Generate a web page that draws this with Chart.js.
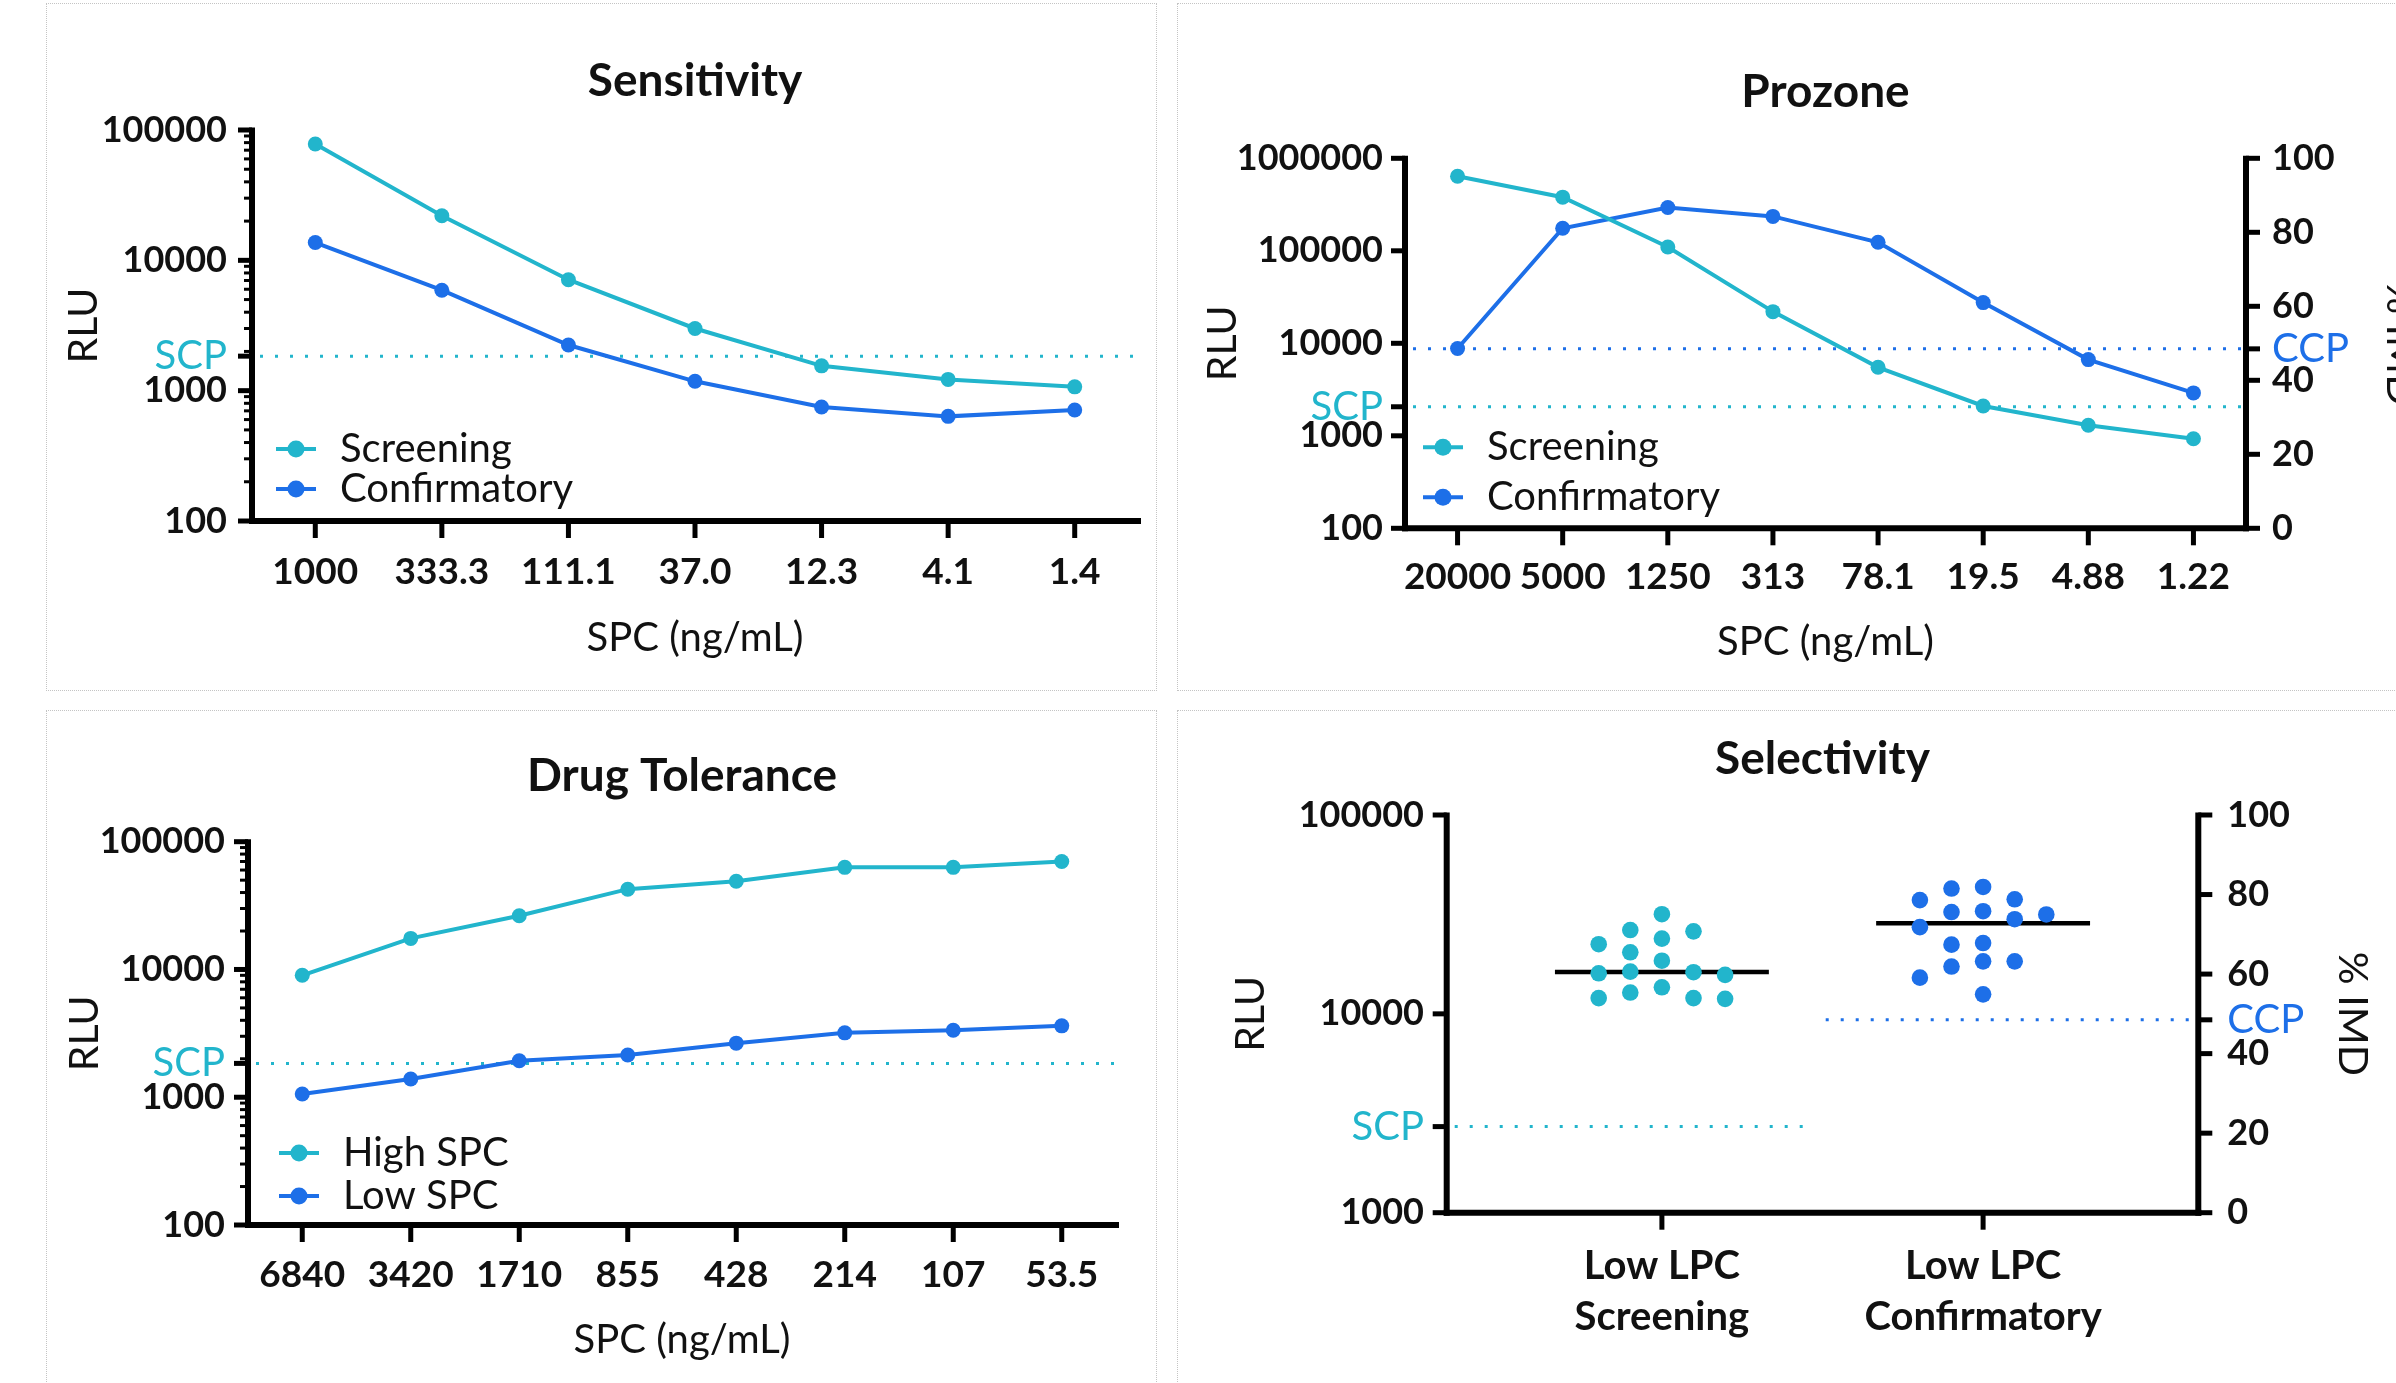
<!DOCTYPE html>
<html>
<head>
<meta charset="utf-8">
<title>Assay validation charts</title>
<script src="https://cdn.jsdelivr.net/npm/chart.js@4.4.1/dist/chart.umd.min.js"></script>
<style>
  html, body { margin: 0; padding: 0; background: #fff; overflow: hidden; }
  body { width: 2396px; height: 1383px; position: relative; }
  .box { position: absolute; border: 1px dotted #c4c4c4; box-sizing: border-box; }
  canvas { position: absolute; }
</style>
</head>
<body>
<div class="box" style="left:46px; top:3px; width:1111px; height:688px"></div>
<div class="box" style="left:1177px; top:3px; width:1300px; height:688px"></div>
<div class="box" style="left:46px; top:710px; width:1111px; height:700px"></div>
<div class="box" style="left:1177px; top:710px; width:1300px; height:700px"></div>
<canvas id="sens" width="1111" height="688" style="left:46px; top:3px"></canvas>
<canvas id="proz" width="1300" height="688" style="left:1178px; top:3px"></canvas>
<canvas id="drug" width="1111" height="700" style="left:46px; top:710px"></canvas>
<canvas id="sel" width="1300" height="700" style="left:1178px; top:710px"></canvas>
<script>
// Sensitivity
var sensDoses = ['1000', '333.3', '111.1', '37.0', '12.3', '4.1', '1.4'];
var sensScreening = [78000, 22000, 7100, 3000, 1550, 1220, 1070];
var sensConfirmatory = [13700, 5900, 2240, 1180, 750, 635, 710];
var sensRluTicks = [100, 1000, 10000, 100000];
var sensScp = 1840;

// Prozone (confirmatory is % IMD on the right axis)
var prozDoses = ['20000', '5000', '1250', '313', '78.1', '19.5', '4.88', '1.22'];
var prozScreening = [640000, 380000, 110000, 22000, 5500, 2100, 1300, 930];
var prozConfirmatory = [48.6, 81.1, 86.7, 84.3, 77.3, 61.0, 45.6, 36.6];
var prozRluTicks = [100, 1000, 10000, 100000, 1000000];
var prozScp = 2060;
var prozCcp = 48.5;

// Drug tolerance
var drugDoses = ['6840', '3420', '1710', '855', '428', '214', '107', '53.5'];
var drugHigh = [9000, 17500, 26300, 42500, 49000, 63000, 63000, 70000];
var drugLow = [1060, 1390, 1930, 2140, 2650, 3190, 3340, 3620];
var drugRluTicks = [100, 1000, 10000, 100000];
var drugScp = 1840;

// Selectivity (screening in RLU, confirmatory in % IMD)
var selGroups = [['Low LPC', 'Screening'], ['Low LPC', 'Confirmatory']];
var selScreening = [31700, 26400, 26000, 23900, 22400, 20400, 18500, 16300, 16200, 16000, 15700, 13600, 12800, 12000, 12000, 11900];
var selConfirmatory = [81.9, 81.5, 78.8, 78.6, 75.8, 75.6, 75.0, 73.8, 71.8, 67.8, 67.4, 63.2, 63.2, 61.9, 59.1, 54.9];
var selRluTicks = [1000, 10000, 100000];
var imdTicks = [0, 20, 40, 60, 80, 100];
var selScp = 2710;
var selCcp = 48.5;

var CYAN = '#22B5CC';
var BLUE = '#1D6FE8';
var INK = '#111';

Chart.defaults.font.family = 'Lato, "Open Sans", sans-serif';
Chart.defaults.color = INK;

function fixed(px) {
    return function (scale) {
        if (scale.isHorizontal()) scale.height = px; else scale.width = px;
    };
}

function median(values) {
    var s = values.slice().sort(function (a, b) { return a - b; });
    var m = Math.floor(s.length / 2);
    return s.length % 2 ? s[m] : (s[m - 1] + s[m]) / 2;
}

// value axis with an extra labelled tick for the cut point
function valueAxis(o) {
    var list = o.ticks.concat([o.cut]).sort(function (a, b) { return a - b; });
    return {
        type: o.type, position: o.position, min: o.min, max: o.max,
        afterBuildTicks: function (s) { s.ticks = list.map(function (v) { return { value: v }; }); },
        afterFit: fixed(o.width),
        grid: { display: false, drawTicks: false },
        border: { display: false },
        ticks: {
            autoSkip: false, padding: o.pad,
            callback: function (v) { return v === o.cut ? o.cutLabel : String(v); },
            color: function (c) { return c.tick && c.tick.value === o.cut ? o.cutColor : INK; },
            font: function (c) {
                return c.tick && c.tick.value === o.cut ? { size: 40, weight: 'normal' } : { size: 36, weight: 'bold' };
            }
        },
        title: { display: true, text: o.title, color: INK, font: { size: 41 }, padding: { top: o.titlePad } }
    };
}

function doseAxis(labels, height, pad, titlePad) {
    return {
        type: 'category', labels: labels, offset: true,
        afterFit: fixed(height),
        grid: { display: false, drawTicks: false },
        border: { display: false },
        ticks: { autoSkip: false, maxRotation: 0, padding: pad, color: INK, font: { size: 37, weight: 'bold' } },
        title: { display: true, text: 'SPC (ng/mL)', color: INK, font: { size: 40 }, padding: { bottom: titlePad } }
    };
}

function series(label, data, color, axis) {
    return {
        label: label, data: data, yAxisID: axis || 'y',
        borderColor: color, backgroundColor: color, borderWidth: 4, tension: 0,
        pointRadius: 7.5, pointBorderWidth: 0, pointBackgroundColor: color
    };
}

function chartTitle(text, top, bottom) {
    return { display: true, text: text, fullSize: false, color: INK,
        font: { size: 46, weight: 'bold' }, padding: { top: top, bottom: bottom } };
}

function line(ctx, x0, y0, x1, y1) {
    ctx.beginPath(); ctx.moveTo(x0, y0); ctx.lineTo(x1, y1); ctx.stroke();
}

// Prism style axes, cut-point lines and in-plot legend
var prism = {
    id: 'prism',
    beforeDatasetsDraw: function (chart, args, opts) {
        var ctx = chart.ctx, area = chart.chartArea;
        (opts.refs || []).forEach(function (r) {
            var y = chart.scales[r.scale].getPixelForValue(r.value);
            var x0 = r.from != null ? chart.scales.x.getPixelForValue(r.from) : area.left + 8;
            var x1 = r.to != null ? chart.scales.x.getPixelForValue(r.to) : area.right;
            ctx.save();
            ctx.strokeStyle = r.color; ctx.lineWidth = 3; ctx.setLineDash([3, 12]);
            line(ctx, x0, y, x1, y);
            ctx.restore();
        });
    },
    afterDatasetsDraw: function (chart, args, opts) {
        var ctx = chart.ctx, area = chart.chartArea;
        ctx.save();
        ctx.strokeStyle = '#000';
        Object.keys(chart.scales).forEach(function (id) {
            var s = chart.scales[id];
            if (s.isHorizontal()) {
                var yb = area.bottom;
                ctx.lineWidth = 6; line(ctx, area.left - 3, yb, area.right + 3, yb);
                ctx.lineWidth = 5;
                s.ticks.forEach(function (t, i) {
                    var x = s.getPixelForTick(i);
                    line(ctx, x, yb, x, yb + 17);
                });
            } else {
                var left = s.position === 'left';
                var x0 = left ? area.left : area.right;
                var dir = left ? -1 : 1;
                ctx.lineWidth = 6; line(ctx, x0, area.top - 2.5, x0, area.bottom + 3);
                ctx.lineWidth = 5;
                s.ticks.forEach(function (t) {
                    var y = s.getPixelForValue(t.value);
                    line(ctx, x0, y, x0 + dir * 14, y);
                });
                if (opts.minor && s.type === 'logarithmic') {
                    ctx.lineWidth = 3;
                    var lo = Math.round(Math.log10(s.min)), hi = Math.round(Math.log10(s.max));
                    for (var d = lo; d < hi; d++) {
                        for (var k = 2; k <= 9; k++) {
                            var ym = s.getPixelForValue(k * Math.pow(10, d));
                            line(ctx, x0, ym, x0 + dir * 8, ym);
                        }
                    }
                }
            }
        });
        if (opts.legend) {
            var rows = opts.legend.rows;
            for (var i = 0; i < rows.length; i++) {
                var ds = chart.data.datasets[i];
                var x = area.left + opts.legend.dx, y = area.bottom - rows[i];
                ctx.strokeStyle = ds.borderColor; ctx.lineWidth = 4;
                line(ctx, x - 20, y, x + 20, y);
                ctx.fillStyle = ds.borderColor;
                ctx.beginPath(); ctx.arc(x, y, 8.5, 0, Math.PI * 2); ctx.fill();
                ctx.fillStyle = INK;
                ctx.font = 'normal 40px Lato, "Open Sans", sans-serif';
                ctx.textBaseline = 'middle'; ctx.textAlign = 'left';
                ctx.fillText(ds.label, x + 44, y);
            }
        }
        ctx.restore();
    }
};

function baseOptions(padRight, title, prismOpts, scales) {
    return {
        responsive: false, animation: false, devicePixelRatio: 1,
        layout: { padding: { left: 0, top: 0, bottom: 0, right: padRight } },
        plugins: { legend: { display: false }, tooltip: { enabled: false }, title: title, prism: prismOpts },
        scales: scales
    };
}

// Sensitivity
new Chart(document.getElementById('sens'), {
    type: 'line',
    data: { labels: sensDoses, datasets: [
        series('Screening', sensScreening, CYAN),
        series('Confirmatory', sensConfirmatory, BLUE)
    ] },
    options: baseOptions(19, chartTitle('Sensitivity', 50.4, 21.4),
        { minor: true, refs: [{ scale: 'y', value: sensScp, color: CYAN }], legend: { dx: 44, rows: [72, 32] } },
        {
            x: doseAxis(sensDoses, 170, 28.7, 29),
            y: valueAxis({ type: 'logarithmic', position: 'left', min: 100, max: 100000, ticks: sensRluTicks,
                cut: sensScp, cutLabel: 'SCP', cutColor: CYAN, width: 206, pad: 25, title: 'RLU', titlePad: 13 })
        }),
    plugins: [prism]
});

// Prozone
new Chart(document.getElementById('proz'), {
    type: 'line',
    data: { labels: prozDoses, datasets: [
        series('Screening', prozScreening, CYAN),
        series('Confirmatory', prozConfirmatory, BLUE, 'y2')
    ] },
    options: baseOptions(0, chartTitle('Prozone', 61.4, 38.7),
        { minor: false, refs: [
            { scale: 'y', value: prozScp, color: CYAN },
            { scale: 'y2', value: prozCcp, color: BLUE }
        ], legend: { dx: 38, rows: [81, 31] } },
        {
            x: doseAxis(prozDoses, 162.7, 26.9, 25),
            y: valueAxis({ type: 'logarithmic', position: 'left', min: 100, max: 1000000, ticks: prozRluTicks,
                cut: prozScp, cutLabel: 'SCP', cutColor: CYAN, width: 227, pad: 22, title: 'RLU', titlePad: 20.5 }),
            y2: valueAxis({ type: 'linear', position: 'right', min: 0, max: 100, ticks: imdTicks,
                cut: prozCcp, cutLabel: 'CCP', cutColor: BLUE, width: 232, pad: 26, title: '% IMD', titlePad: 53 })
        }),
    plugins: [prism]
});

// Drug tolerance
new Chart(document.getElementById('drug'), {
    type: 'line',
    data: { labels: drugDoses, datasets: [
        series('High SPC', drugHigh, CYAN),
        series('Low SPC', drugLow, BLUE)
    ] },
    options: baseOptions(41, chartTitle('Drug Tolerance', 38.4, 38.1),
        { minor: true, refs: [{ scale: 'y', value: drugScp, color: CYAN }], legend: { dx: 51, rows: [72, 29] } },
        {
            x: doseAxis(drugDoses, 185, 28.2, 45.5),
            y: valueAxis({ type: 'logarithmic', position: 'left', min: 100, max: 100000, ticks: drugRluTicks,
                cut: drugScp, cutLabel: 'SCP', cutColor: CYAN, width: 202, pad: 23, title: 'RLU', titlePad: 14 })
        }),
    plugins: [prism]
});

// Selectivity
var MED_HALF = 0.333;
function dots(label, values, center, color, axis) {
    return {
        label: label, yAxisID: axis, order: 0,
        data: values.map(function (v) { return { x: center, y: v }; }),
        backgroundColor: color, pointRadius: 8.3, pointBorderWidth: 0
    };
}
function medianBar(values, center, axis) {
    var m = median(values);
    return {
        type: 'line', label: 'median', yAxisID: axis, order: 1,
        data: [{ x: center - MED_HALF, y: m }, { x: center + MED_HALF, y: m }],
        borderColor: '#000', borderWidth: 4.5, pointRadius: 0
    };
}

var sel = new Chart(document.getElementById('sel'), {
    type: 'scatter',
    data: { datasets: [
        dots('Screening', selScreening, 1, CYAN, 'y'),
        dots('Confirmatory', selConfirmatory, 2, BLUE, 'y2'),
        medianBar(selScreening, 1, 'y'),
        medianBar(selConfirmatory, 2, 'y2')
    ] },
    options: baseOptions(0, chartTitle('Selectivity', 21.4, 28.4),
        { minor: false, refs: [
            { scale: 'y', value: selScp, color: CYAN, to: 1.44 },
            { scale: 'y2', value: selCcp, color: BLUE, from: 1.51 }
        ] },
        {
            x: {
                type: 'linear', min: 0.33, max: 2.67,
                afterBuildTicks: function (s) { s.ticks = [{ value: 1 }, { value: 2 }]; },
                afterFit: fixed(197.3),
                grid: { display: false, drawTicks: false },
                border: { display: false },
                ticks: { autoSkip: false, maxRotation: 0, padding: 27.8, color: INK,
                    callback: function (v) { return selGroups[v - 1]; },
                    font: { size: 40, weight: 'bold', lineHeight: 1.275 } }
            },
            y: valueAxis({ type: 'logarithmic', position: 'left', min: 1000, max: 100000, ticks: selRluTicks,
                cut: selScp, cutLabel: 'SCP', cutColor: CYAN, width: 268.7, pad: 22.7, title: 'RLU', titlePad: 48 }),
            y2: valueAxis({ type: 'linear', position: 'right', min: 0, max: 100, ticks: imdTicks,
                cut: selCcp, cutLabel: 'CCP', cutColor: BLUE, width: 279.7, pad: 29, title: '% IMD', titlePad: 101 })
        }),
    plugins: [prism]
});

// spread the dots sideways like a Prism scatter dot plot, using the chart's own scales
var COL_PX = 31.6;
var MIN_GAP = 18;
function swarm(chart, dsIndex, center, values, scaleId) {
    var ys = chart.scales[scaleId], xs = chart.scales.x;
    var perUnit = xs.getPixelForValue(center + 1) - xs.getPixelForValue(center);
    var idx = values.map(function (v, i) { return i; });
    idx.sort(function (a, b) { return ys.getPixelForValue(values[a]) - ys.getPixelForValue(values[b]); });
    var placed = [], cols = [];
    idx.forEach(function (i) {
        var py = ys.getPixelForValue(values[i]);
        var tries = [0, -1, 1, -2, 2, -3, 3, -4, 4];
        for (var t = 0; t < tries.length; t++) {
            var c = tries[t];
            var ok = placed.every(function (p) { return p.c !== c || Math.abs(p.y - py) >= MIN_GAP; });
            if (ok) { cols[i] = c; placed.push({ c: c, y: py }); break; }
        }
    });
    chart.data.datasets[dsIndex].data = values.map(function (v, i) {
        return { x: center + cols[i] * COL_PX / perUnit, y: v };
    });
}
swarm(sel, 0, 1, selScreening, 'y');
swarm(sel, 1, 2, selConfirmatory, 'y2');
sel.update('none');
</script>
</body>
</html>
